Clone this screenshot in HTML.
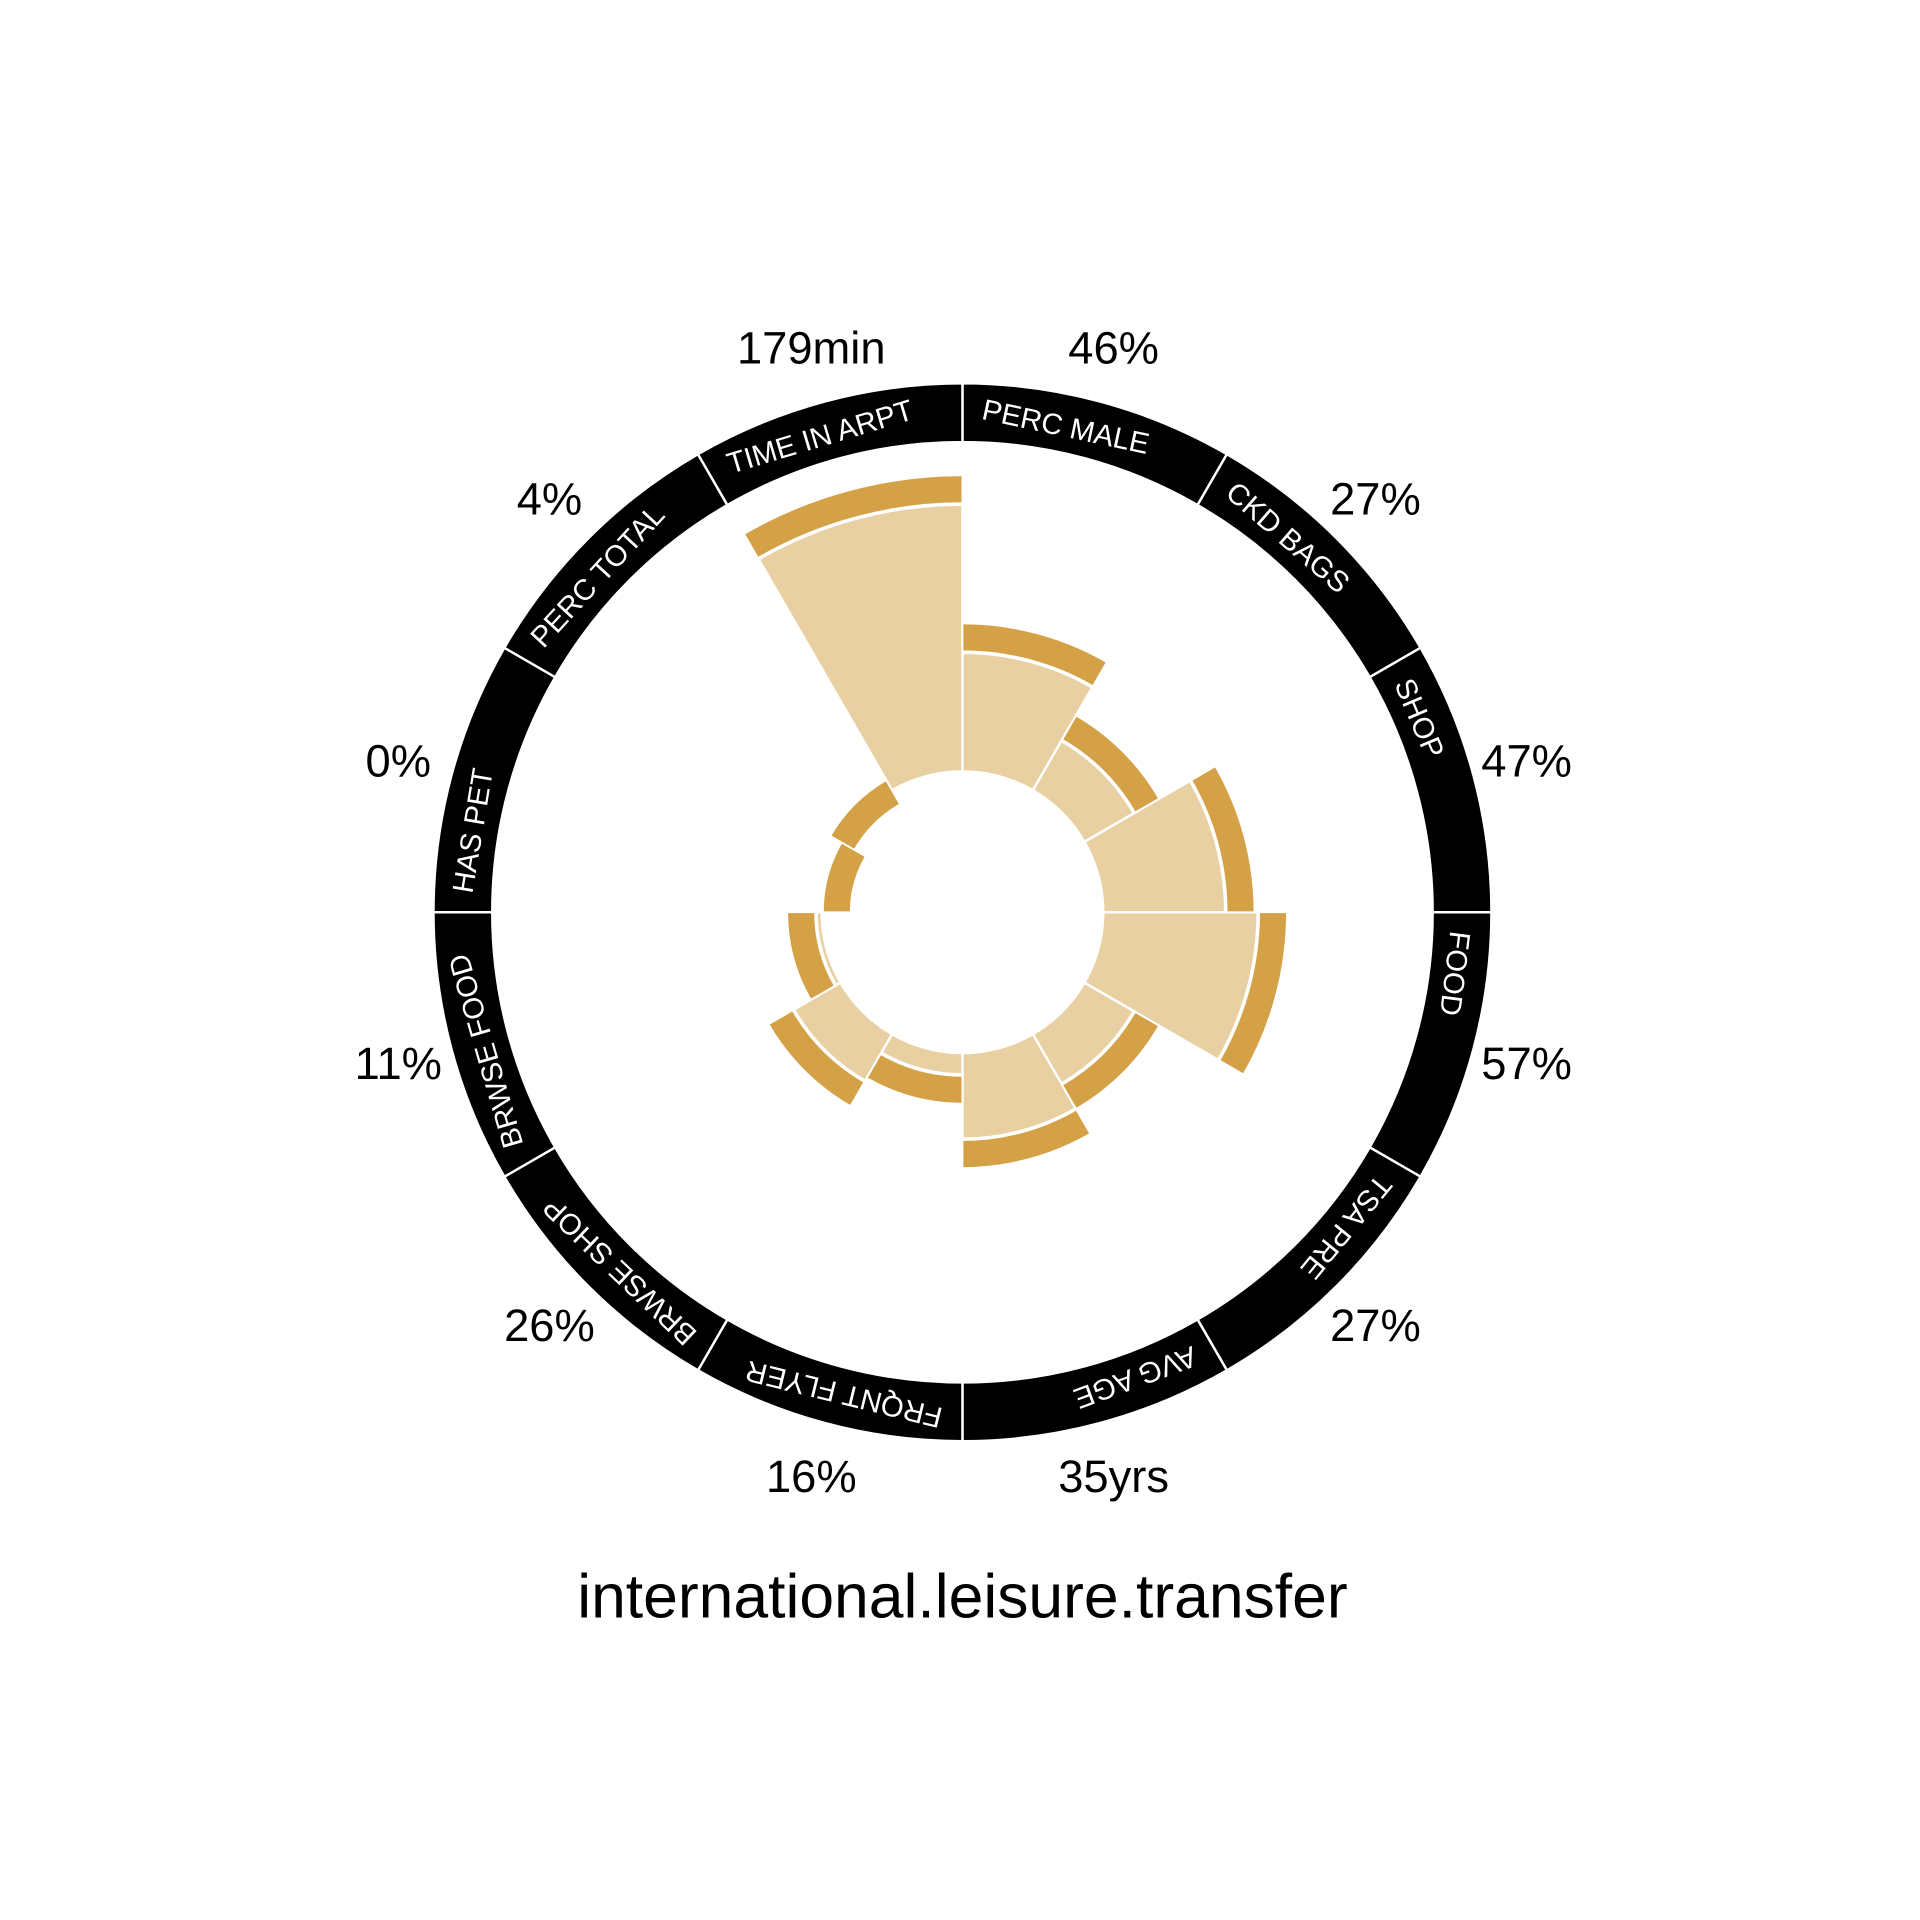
<!DOCTYPE html>
<html><head><meta charset="utf-8"><style>
html,body{margin:0;padding:0;background:#fff;}
svg{display:block;font-family:"Liberation Sans",Arial,sans-serif;}
</style></head><body>
<svg id="chart" xmlns="http://www.w3.org/2000/svg" width="1920" height="1920" viewBox="0 0 1568 1568">
<rect width="1568" height="1568" fill="#fff"/>
<g id="bars"></g>
<g id="ring"></g>
<g id="vals"></g>
<text x="786" y="1321" font-size="51" text-anchor="middle" fill="#000">international.leisure.transfer</text>
</svg>
<script>
const categories = ["PERC MALE","CKD BAGS","SHOP","FOOD","TSA PRE","AVG AGE","FRQNT FLYER","BRWSE SHOP","BRWSE FOOD","HAS PET","PERC TOTAL","TIME IN ARPT"];
const values = [46,27,47,57,27,35,16,26,11,0,4,179];
const units = ["%","%","%","%","%","yrs","%","%","%","%","%","min"];
const unitScale = {"%":1,"yrs":1.023,"min":0.512};

const NS="http://www.w3.org/2000/svg";
const cx=786, cy=745, rBase=90, k=2.65, band=24, hole=116, ringIn=384, ringOut=432, rLab=405;
const n=categories.length, step=360/n;
function rScale(v,u){return rBase + k*v*unitScale[u];}
function pt(r,a){const t=a*Math.PI/180;return [cx+r*Math.sin(t), cy-r*Math.cos(t)];}
function wedge(r0,r1,a0,a1){
  const p0=pt(r1,a0),p1=pt(r1,a1),p2=pt(r0,a1),p3=pt(r0,a0);
  let d=`M${p0[0]},${p0[1]} A${r1},${r1} 0 0 1 ${p1[0]},${p1[1]} L${p2[0]},${p2[1]}`;
  if(r0>0) d+=` A${r0},${r0} 0 0 0 ${p3[0]},${p3[1]}`;
  return d+"Z";
}
function mk(tag,attrs,parent){const e=document.createElementNS(NS,tag);for(const a in attrs)e.setAttribute(a,attrs[a]);parent.appendChild(e);return e;}
const bars=document.getElementById('bars'), ring=document.getElementById('ring'), vals=document.getElementById('vals');

categories.forEach((c,i)=>{
  const r=rScale(values[i],units[i]);
  const e=mk('path',{d:wedge(0,r,i*step,(i+1)*step),fill:'#E8D0A2',stroke:'#fff','stroke-width':2},bars);
  
  
});
const h=mk('circle',{cx:cx,cy:cy,r:hole,fill:'#fff'},bars);


categories.forEach((c,i)=>{
  const r=rScale(values[i],units[i]);
  const e=mk('path',{d:wedge(r+1.2,r+band,i*step,(i+1)*step),fill:'#D4A147',stroke:'#fff','stroke-width':1.5},bars);
  
  
});
categories.forEach((c,i)=>{
  const s=mk('path',{d:wedge(ringIn,ringOut,i*step,(i+1)*step),fill:'#000',stroke:'#fff','stroke-width':2},ring);
  
  
  const t=mk('text',{x:0,y:0,'font-size':24,fill:'#fff','text-anchor':'middle','dominant-baseline':'central'},ring);
  t.textContent=c;
  
  
  const w=t.getComputedTextLength();
  const a=i*step+2.2+(w/2)/rLab*180/Math.PI;
  const p=pt(rLab,a);
  t.setAttribute('x',p[0]);
  t.setAttribute('y',p[1]);
  t.setAttribute('transform',`rotate(${a} ${p[0]} ${p[1]})`);
  const am=(i+0.5)*step, q=pt(477,am);
  const v=mk('text',{x:q[0],y:q[1],'font-size':37,fill:'#000','text-anchor':'middle','dominant-baseline':'central'},vals);
  v.textContent=values[i]+units[i];
  
  
});
</script>
</body></html>
